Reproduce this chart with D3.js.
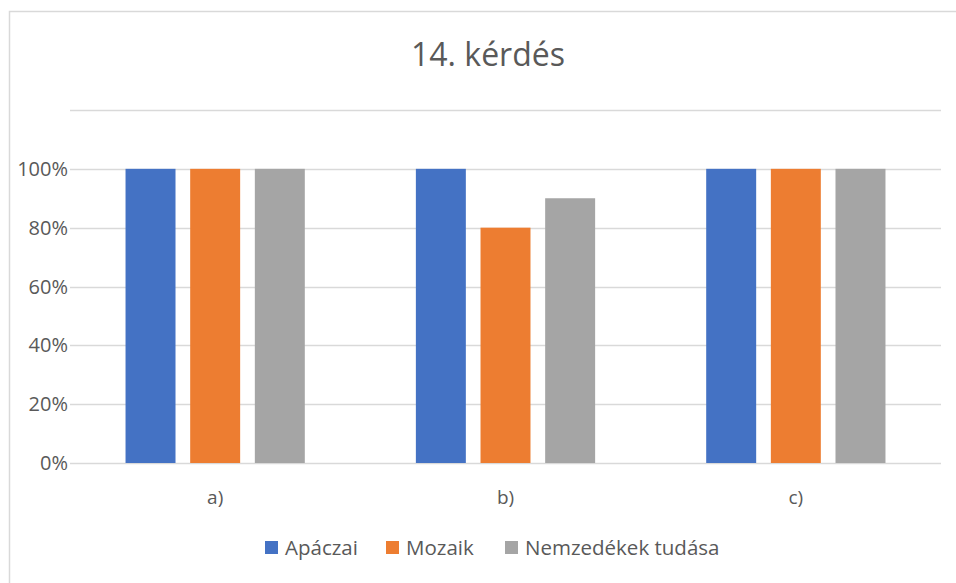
<!DOCTYPE html>
<html>
<head>
<meta charset="utf-8">
<script src="https://cdn.jsdelivr.net/npm/d3@7"></script>
<style>
  body { margin: 0; background: #fff; }
  text { font-family: "Open Sans", sans-serif; fill: #595959; }
</style>
</head>
<body>
<script>
var categories = ['a)', 'b)', 'c)']
var seriesNames = ['Apáczai', 'Mozaik', 'Nemzedékek tudása']
var apaczai = [1, 1, 1]
var mozaik = [1, 0.8, 1]
var nemzedekek = [1, 0.9, 1]
var yTicks = [0, 0.2, 0.4, 0.6, 0.8, 1, 1.2]
var colors = ['#4472c4', '#ed7d31', '#a5a5a5']

var values = [apaczai, mozaik, nemzedekek]

var width = 956, height = 583
var plotLeft = 70, plotRight = 941, plotTop = 110, plotBottom = 463

var svg = d3.select('body').append('svg')
    .attr('width', width)
    .attr('height', height)

// chart frame
svg.append('rect')
    .attr('x', 9.5)
    .attr('y', 11.5)
    .attr('width', 980)
    .attr('height', 620)
    .attr('fill', 'none')
    .attr('stroke', '#d9d9d9')
    .attr('stroke-width', 1.5)

svg.append('text')
    .attr('x', 488)
    .attr('y', 66)
    .attr('text-anchor', 'middle')
    .style('font-size', '32px')
    .text('14. kérdés')

var x0 = d3.scaleBand()
    .domain(categories)
    .range([plotLeft, plotRight])
    .paddingInner(0.332)
    .paddingOuter(0.166)

var x1 = d3.scaleBand()
    .domain(seriesNames)
    .range([0, x0.bandwidth()])
    .paddingInner(0.227)
    .paddingOuter(0.1135)

var y = d3.scaleLinear()
    .domain([0, 1.2])
    .range([plotBottom, plotTop])

// gridlines
svg.append('g')
    .selectAll('line')
    .data(yTicks)
    .enter()
    .append('line')
    .attr('x1', plotLeft)
    .attr('x2', plotRight)
    .attr('y1', function (d) { return Math.round(y(d)) + 0.5 })
    .attr('y2', function (d) { return Math.round(y(d)) + 0.5 })
    .attr('stroke', '#d9d9d9')
    .attr('stroke-width', 1.5)

// y labels (top gridline has no label)
svg.append('g')
    .selectAll('text')
    .data(yTicks.slice(0, 6))
    .enter()
    .append('text')
    .attr('x', 68)
    .attr('y', function (d) { return y(d) + 7 })
    .attr('text-anchor', 'end')
    .style('font-size', '20px')
    .text(d3.format('.0%'))

// bars
var groups = svg.append('g')
    .selectAll('g')
    .data(categories)
    .enter()
    .append('g')
    .attr('transform', function (d) { return 'translate(' + x0(d) + ',0)' })

groups.selectAll('rect')
    .data(function (d, i) {
        return seriesNames.map(function (s, j) { return {s: s, v: values[j][i], c: colors[j]} })
    })
    .enter()
    .append('rect')
    .attr('x', function (d) { return x1(d.s) })
    .attr('width', x1.bandwidth())
    .attr('y', function (d) { return y(d.v) })
    .attr('height', function (d) { return plotBottom - y(d.v) })
    .attr('fill', function (d) { return d.c })

// category labels
svg.append('g')
    .selectAll('text')
    .data(categories)
    .enter()
    .append('text')
    .attr('x', function (d) { return x0(d) + x0.bandwidth() / 2 })
    .attr('y', 504)
    .attr('text-anchor', 'middle')
    .style('font-size', '19px')
    .text(function (d) { return d })

// legend
var legendX = [265, 386, 505]
var legend = svg.append('g')
    .selectAll('g')
    .data(seriesNames)
    .enter()
    .append('g')
    .attr('transform', function (d, i) { return 'translate(' + legendX[i] + ',541)' })

legend.append('rect')
    .attr('width', 13)
    .attr('height', 13)
    .attr('fill', function (d, i) { return colors[i] })

legend.append('text')
    .attr('x', 20)
    .attr('y', 14)
    .style('font-size', '20.5px')
    .text(function (d) { return d })
</script>
</body>
</html>
